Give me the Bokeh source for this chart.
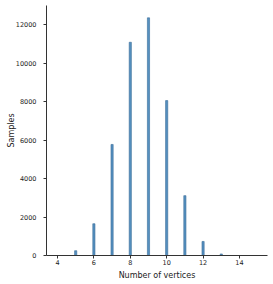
from bokeh.plotting import figure
from bokeh.embed import file_html
from bokeh.resources import INLINE
from bokeh.models import ColumnDataSource, FixedTicker, Range1d

vertices = [4, 5, 6, 7, 8, 9, 10, 11, 12, 13, 14, 15]
samples = [0, 250, 1650, 5770, 11080, 12350, 8050, 3110, 730, 80, 0, 0]
x_ticks = [4, 6, 8, 10, 12, 14]
y_ticks = [0, 2000, 4000, 6000, 8000, 10000, 12000]

src = ColumnDataSource(dict(x=vertices, top=samples))

p = figure(width=273, height=284, output_backend="svg", toolbar_location=None,
           x_range=Range1d(3.396, 15.54), y_range=Range1d(0, 12990),
           min_border_left=46, min_border_right=6, min_border_top=5, min_border_bottom=29)
p.outline_line_color = None
p.xgrid.visible = False
p.ygrid.visible = False

p.segment(x0=[vertices[0]], y0=[0], x1=[vertices[-1]], y1=[0], line_color="#3f74a3", line_width=1)
p.vbar(x="x", top="top", width=0.12, source=src, fill_color="#5590c0", line_color="#3a6d99", line_width=0.6)

for ax in (p.xaxis[0], p.yaxis[0]):
    ax.axis_line_color = "#333333"
    ax.axis_line_width = 1
    ax.major_tick_line_color = "#333333"
    ax.major_tick_out = 3
    ax.major_tick_in = 0
    ax.minor_tick_line_color = None
    ax.major_label_text_font = "DejaVu Sans"
    ax.major_label_text_font_size = "6.5px"
    ax.major_label_text_color = "#222222"
    ax.axis_label_text_font = "DejaVu Sans"
    ax.axis_label_text_font_size = "8px"
    ax.axis_label_text_font_style = "normal"
    ax.axis_label_text_color = "#222222"

p.xaxis.major_label_standoff = 1
p.xaxis.axis_label_standoff = 3
p.yaxis.major_label_standoff = 7
p.yaxis.axis_label_standoff = -3

p.xaxis.ticker = FixedTicker(ticks=x_ticks)
p.yaxis.ticker = FixedTicker(ticks=y_ticks)
p.xaxis.axis_label = "Number of vertices"
p.yaxis.axis_label = "Samples"

open("out.html", "w").write(file_html(p, INLINE))
